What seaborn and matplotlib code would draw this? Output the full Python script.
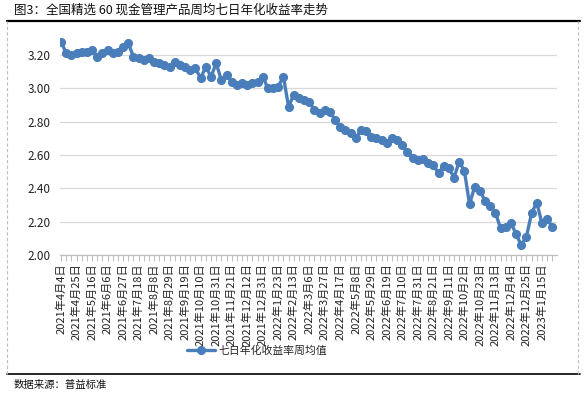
import matplotlib
matplotlib.use('Agg')
import matplotlib.pyplot as plt
import seaborn as sns
import pandas as pd
from matplotlib.lines import Line2D

# weekly 7-day annualised yield, average of the 60 selected products
yield_values = [
    3.28, 3.21, 3.20, 3.21, 3.22, 3.22, 3.23, 3.19, 3.21, 3.23,
    3.21, 3.22, 3.25, 3.27, 3.19, 3.18, 3.17, 3.18, 3.16, 3.15,
    3.14, 3.13, 3.16, 3.14, 3.13, 3.11, 3.12, 3.06, 3.13, 3.07,
    3.15, 3.05, 3.08, 3.04, 3.02, 3.03, 3.02, 3.03, 3.04, 3.07,
    3.00, 3.00, 3.01, 3.07, 2.89, 2.96, 2.94, 2.93, 2.92, 2.87,
    2.85, 2.87, 2.86, 2.81, 2.77, 2.75, 2.73, 2.70, 2.75, 2.745,
    2.71, 2.70, 2.69, 2.67, 2.70, 2.69, 2.66, 2.62, 2.58, 2.57,
    2.575, 2.55, 2.54, 2.49, 2.535, 2.52, 2.465, 2.56, 2.505, 2.305,
    2.41, 2.385, 2.325, 2.295, 2.255, 2.16, 2.17, 2.195, 2.125, 2.06,
    2.11, 2.25, 2.315, 2.19, 2.215, 2.17,
]

# every third week is labelled
tick_labels = [
    '2021年4月4日', '2021年4月25日', '2021年5月16日', '2021年6月6日',
    '2021年6月27日', '2021年7月18日', '2021年8月8日', '2021年8月29日',
    '2021年9月19日', '2021年10月10日', '2021年10月31日', '2021年11月21日',
    '2021年12月12日', '2021年12月31日', '2022年1月23日', '2022年2月13日',
    '2022年3月6日', '2022年3月27日', '2022年4月17日', '2022年5月8日',
    '2022年5月29日', '2022年6月19日', '2022年7月10日', '2022年7月31日',
    '2022年8月21日', '2022年9月11日', '2022年10月2日', '2022年10月23日',
    '2022年11月13日', '2022年12月4日', '2022年12月25日', '2023年1月15日',
]
label_step = 3

series_name = '七日年化收益率周均值'
y_ticks = [2.00, 2.20, 2.40, 2.60, 2.80, 3.00, 3.20]

df = pd.DataFrame({'week': range(len(yield_values)), 'value': yield_values})

sns.set_theme(style='white')
plt.rcParams['font.family'] = ['Noto Sans CJK SC', 'DejaVu Sans']
plt.rcParams['axes.unicode_minus'] = False

fig = plt.figure(figsize=(5.85, 3.95), dpi=100)
ax = fig.add_axes([0.1026, 0.3544, 0.8494, 0.5486])

blue = '#4a7ebb'
sns.lineplot(data=df, x='week', y='value', ax=ax, color=blue, linewidth=2.4,
             marker='o', markersize=5.8, markeredgecolor=blue, label=series_name)

ax.set_xlim(-0.2, len(yield_values) - 0.1)
ax.set_ylim(2.0, 3.3)
ax.set_yticks(y_ticks)
ax.set_yticklabels([f'{v:.2f}' for v in y_ticks], fontsize=8.5, color='#222222')
ax.set_xticks(range(0, len(yield_values), label_step))
ax.set_xticklabels(tick_labels, rotation=90, fontsize=8, color='#222222')
ax.set_xticks(range(len(yield_values)), minor=True)
ax.tick_params(axis='x', which='both', direction='out', length=4, width=0.8,
               color='#bfbfbf', pad=2, bottom=True)
ax.tick_params(axis='y', length=0, pad=7)
ax.set_xlabel('')
ax.set_ylabel('')

ax.grid(axis='y', color='#d9d9d9', linewidth=0.9)
ax.set_axisbelow(True)
for side in ['left', 'right', 'top']:
    ax.spines[side].set_visible(False)
ax.spines['bottom'].set_color('#bfbfbf')
ax.spines['bottom'].set_linewidth(0.9)

leg = ax.legend(loc='center', bbox_to_anchor=(0.44, 0.112), bbox_transform=fig.transFigure,
                frameon=False, fontsize=7.8, handlelength=2.6, handletextpad=0.3)

# title, frame and source note
fig.text(0.024, 0.974, '图3：全国精选 60 现金管理产品周均七日年化收益率走势',
         fontsize=9, ha='left', va='center', color='#111111')
fig.add_artist(Line2D([0.012, 0.991], [0.948, 0.948], color='black', linewidth=1.6))
fig.add_artist(Line2D([0.012, 0.991], [0.053, 0.053], color='black', linewidth=1.2))
fig.add_artist(Line2D([0.012, 0.012], [0.053, 0.948], color='#bfbfbf', linewidth=0.8,
                      linestyle=(0, (3, 2))))
fig.add_artist(Line2D([0.988, 0.988], [0.053, 0.948], color='#bfbfbf', linewidth=0.8,
                      linestyle=(0, (3, 2))))
fig.text(0.024, 0.026, '数据来源：普益标准', fontsize=7.5, ha='left', va='center',
         color='#111111')

fig.savefig('out.png', dpi=100)
